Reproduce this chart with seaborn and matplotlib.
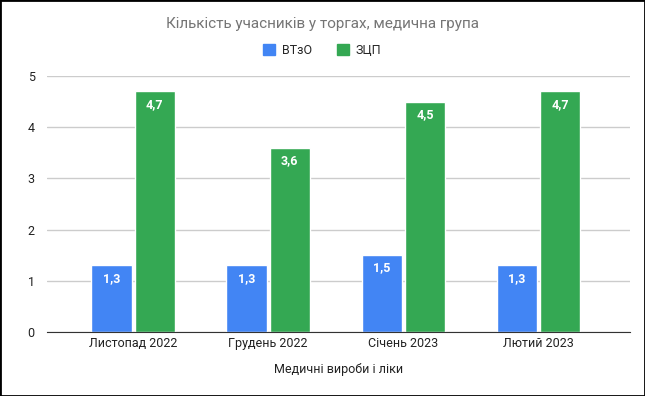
import matplotlib.pyplot as plt
import matplotlib.patches as mpatches
import seaborn as sns
import pandas as pd

# chart data
months = ['Листопад 2022', 'Грудень 2022', 'Січень 2023', 'Лютий 2023']
vtzo = [1.3, 1.3, 1.5, 1.3]
zcp = [4.7, 3.6, 4.5, 4.7]
series_names = ['ВТзО', 'ЗЦП']
colors = ['#4285F4', '#34A853']

df = pd.DataFrame({
    'month': months * 2,
    'value': vtzo + zcp,
    'series': [series_names[0]] * len(months) + [series_names[1]] * len(months),
})

sns.set_style('white')
plt.rcParams['font.family'] = ['Roboto', 'DejaVu Sans']

fig = plt.figure(figsize=(6.45, 3.96), dpi=100)
ax = fig.add_axes([0.073, 0.162, 0.904, 0.646])

sns.barplot(data=df, x='month', y='value', hue='series', palette=colors,
            width=0.64, gap=0.07, ax=ax, legend=False, saturation=1)

# value labels inside bar tops
for cont in ax.containers:
    labels = [f'{b.get_height():.1f}'.replace('.', ',') for b in cont]
    ax.bar_label(cont, labels=labels, padding=-14, color='white',
                 fontsize=9, fontweight='bold')

ax.set_ylim(0, 5)
ax.set_xlim(-0.637, 3.68)
ax.set_yticks(range(0, 6))
ax.yaxis.grid(True, color='#cccccc', linewidth=1)
ax.set_axisbelow(True)
for s in ['top', 'right', 'left']:
    ax.spines[s].set_visible(False)
ax.spines['bottom'].set_color('#333333')
ax.tick_params(axis='both', length=0, labelsize=9, labelcolor='#222222')
ax.tick_params(axis='x', pad=4)
ax.tick_params(axis='y', pad=9)
ax.set_ylabel('')
ax.set_xlabel('Медичні вироби і ліки', fontsize=9, color='#222222', labelpad=9)

fig.text(0.5, 0.94, 'Кількість учасників у торгах, медична група',
         ha='center', va='center', fontsize=11, color='#757575')

handles = [mpatches.Patch(color=c, label=n) for c, n in zip(colors, series_names)]
fig.legend(handles=handles, loc='center', bbox_to_anchor=(0.5, 0.873), ncol=2,
           frameon=False, fontsize=9, handlelength=0.9, handleheight=0.9,
           handletextpad=0.6, columnspacing=2.0)

# outer border
fig.patches.append(mpatches.Rectangle((0, 0), 1, 1, transform=fig.transFigure,
                                      fill=False, edgecolor='black', linewidth=2))

fig.savefig('out.png', dpi=100)
